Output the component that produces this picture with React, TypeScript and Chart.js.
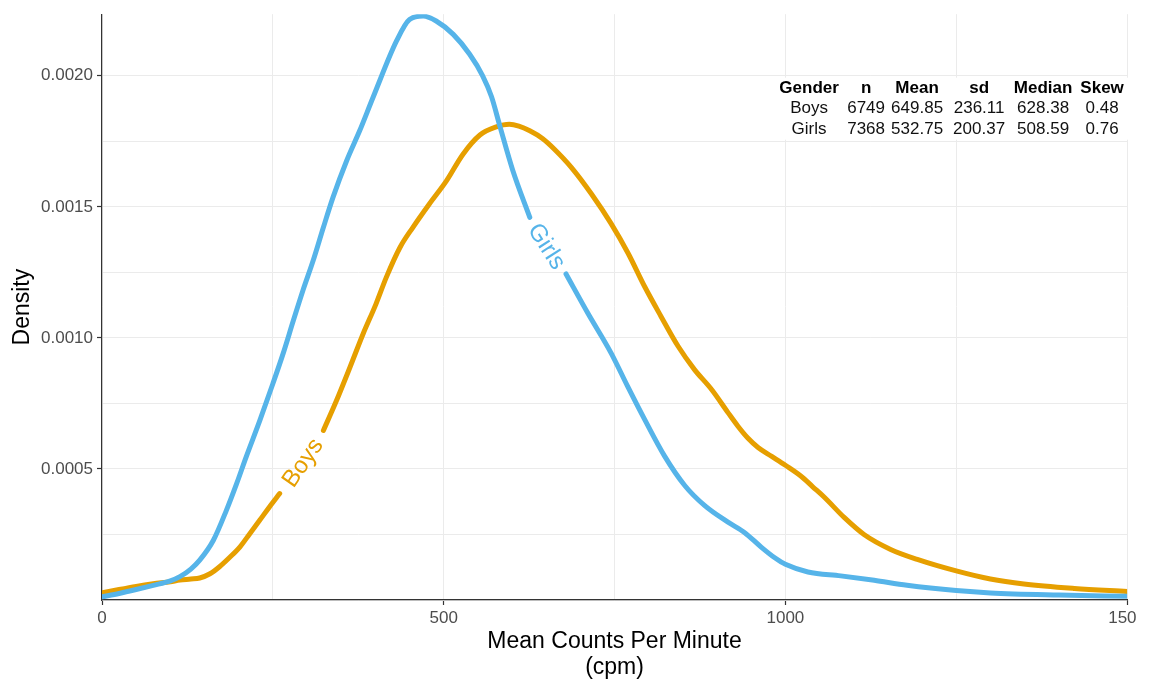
import React, { useEffect, useRef } from 'react';
import { Chart, registerables } from 'chart.js';

Chart.register(...registerables);

// ---- Data ----
const girlsX = [0, 25, 50, 75, 100, 114, 130, 143, 163, 182, 197, 211, 231, 250, 265, 280, 294, 309, 324, 338, 358, 377, 397, 431, 450, 470, 489, 514, 538, 557, 570, 582, 601, 626, 652, 679, 711, 745, 769, 794, 823, 853, 882, 916, 940, 965, 985, 1000, 1033, 1081, 1130, 1178, 1250, 1300, 1400, 1500];
const girlsDensity = [0.000012, 0.000025, 0.00004, 0.000056, 0.000073, 0.000089, 0.000118, 0.000152, 0.000228, 0.000342, 0.000444, 0.000546, 0.000685, 0.000825, 0.00094, 0.001066, 0.001181, 0.001295, 0.001422, 0.001536, 0.001676, 0.00179, 0.00192, 0.002133, 0.002215, 0.002228, 0.002209, 0.002158, 0.002082, 0.002, 0.00192, 0.00181, 0.00164, 0.00146, null, 0.001244, 0.001094, 0.000942, 0.000816, 0.000689, 0.00055, 0.000436, 0.00036, 0.000297, 0.000258, 0.000201, 0.00016, 0.000136, 0.000107, 0.000092, 0.000075, 0.000056, 0.000036, 0.000027, 0.000019, 0.000014];

const boysX = [0, 25, 50, 75, 100, 114, 130, 143, 158, 172, 187, 202, 216, 231, 245, 260, 292, 324, 343, 363, 382, 401, 416, 436, 455, 479, 504, 528, 553, 577, 596, 610, 626, 645, 662, 687, 716, 745, 770, 794, 818, 843, 867, 892, 916, 930, 945, 960, 980, 1000, 1023, 1040, 1057, 1086, 1115, 1154, 1193, 1250, 1300, 1349, 1423, 1500];
const boysDensity = [0.000027, 0.00004, 0.000052, 0.000062, 0.00007, 0.000076, 0.00008, 0.000084, 0.0001, 0.000127, 0.000163, 0.000203, 0.000252, 0.000305, 0.000355, 0.000406, null, 0.000647, 0.00076, 0.000889, 0.001015, 0.00113, 0.001231, 0.001345, 0.001422, 0.001511, 0.001599, 0.0017, 0.001774, 0.001805, 0.001815, 0.001808, 0.00179, 0.00176, 0.00172, 0.00165, 0.00155, 0.001436, 0.001322, 0.001196, 0.001082, 0.000968, 0.000879, 0.000803, 0.000715, 0.000665, 0.000618, 0.000582, 0.000548, 0.000514, 0.000472, 0.000432, 0.000392, 0.000315, 0.00025, 0.000193, 0.000155, 0.000111, 0.00008, 0.000061, 0.000044, 0.000032];

const seriesNames = ['Girls', 'Boys'];
const seriesColors = ['#56B4E9', '#E69F00'];

const xLabelledTicks = [0, 500, 1000, 1500];
const yLabelledTicks = [0.0005, 0.001, 0.0015, 0.002];

const tableHeader = ['Gender', 'n', 'Mean', 'sd', 'Median', 'Skew'];
const tableRows = [
  ['Boys', '6749', '649.85', '236.11', '628.38', '0.48'],
  ['Girls', '7368', '532.75', '200.37', '508.59', '0.76'],
];

const FONT = '"Liberation Sans", Arial, Helvetica, sans-serif';

const isLabelledY = (v: number) => yLabelledTicks.some((t) => Math.abs(t - v) < 1e-9);
const isLabelledX = (v: number) => xLabelledTicks.includes(Math.round(v));

const annotatePlugin = {
  id: 'annotate',
  afterDatasetsDraw(chart: any) {
    const { ctx, chartArea, scales } = chart;
    const xs = scales.x;
    const ys = scales.y;
    // on-curve labels placed in the gaps of each line
    chart.data.datasets.forEach((ds: any) => {
      const pts = ds.data;
      const gi = pts.findIndex((p: any) => p.y === null);
      if (gi < 1 || gi >= pts.length - 1) return;
      const a = pts[gi - 1];
      const b = pts[gi + 1];
      const x1 = xs.getPixelForValue(a.x);
      const y1 = ys.getPixelForValue(a.y);
      const x2 = xs.getPixelForValue(b.x);
      const y2 = ys.getPixelForValue(b.y);
      const ang = Math.atan2(y2 - y1, x2 - x1);
      ctx.save();
      ctx.translate((x1 + x2) / 2, (y1 + y2) / 2);
      ctx.rotate(ang);
      ctx.font = `24px ${FONT}`;
      ctx.fillStyle = ds.borderColor;
      ctx.textAlign = 'center';
      ctx.textBaseline = 'middle';
      ctx.fillText(ds.label, 0, 2);
      ctx.restore();
    });

    // summary table
    const right = chartArea.right;
    const top = chartArea.top;
    const colCenters = [-318, -261, -210, -148, -84, -25];
    const rowYs = [74, 94.5, 115];
    ctx.save();
    ctx.fillStyle = '#ffffff';
    ctx.fillRect(right - 360, top + 63.5, 372, 62);
    ctx.fillStyle = '#000000';
    ctx.textAlign = 'center';
    ctx.textBaseline = 'middle';
    ctx.font = `bold 17px ${FONT}`;
    tableHeader.forEach((h, i) => ctx.fillText(h, right + colCenters[i], top + rowYs[0]));
    ctx.font = `17px ${FONT}`;
    ctx.fillStyle = '#111111';
    tableRows.forEach((row, r) => {
      row.forEach((c, i) => ctx.fillText(c, right + colCenters[i], top + rowYs[r + 1]));
    });
    ctx.restore();
  },
};

export default function App() {
  const ref = useRef<HTMLCanvasElement>(null);

  useEffect(() => {
    if (!ref.current) return;
    const mk = (xsArr: number[], ysArr: (number | null)[]) => xsArr.map((x, i) => ({ x, y: ysArr[i] }));
    const gridColor = '#ebebeb';
    const tickColor = (ctx: any) => {
      const v = ctx.tick ? ctx.tick.value : NaN;
      if (ctx.scale.axis === 'x') return isLabelledX(v) ? '#333333' : 'rgba(0,0,0,0)';
      return isLabelledY(v) ? '#333333' : 'rgba(0,0,0,0)';
    };
    const lineStyle = {
      borderWidth: 5,
      pointRadius: 0,
      cubicInterpolationMode: 'monotone',
      spanGaps: false,
      borderCapStyle: 'round',
      borderJoinStyle: 'round',
    };
    const chart = new Chart(ref.current, {
      type: 'line',
      data: {
        datasets: [
          {
            label: seriesNames[0],
            data: mk(girlsX, girlsDensity),
            borderColor: seriesColors[0],
            backgroundColor: seriesColors[0],
            ...lineStyle,
          },
          {
            label: seriesNames[1],
            data: mk(boysX, boysDensity),
            borderColor: seriesColors[1],
            backgroundColor: seriesColors[1],
            ...lineStyle,
          },
        ],
      },
      options: {
        animation: false,
        responsive: false,
        events: [],
        layout: { padding: { top: 13, right: 21, bottom: 0, left: 0 } },
        plugins: {
          legend: { display: false },
          tooltip: { enabled: false },
        },
        scales: {
          x: {
            type: 'linear',
            position: 'bottom',
            min: 0,
            max: 1500,
            afterFit: (s: any) => { s.height = 82; },
            ticks: {
              stepSize: 250,
              autoSkip: false,
              maxRotation: 0,
              padding: 3,
              color: '#4d4d4d',
              font: { family: FONT, size: 17 },
              callback: (v: any) => (isLabelledX(Number(v)) ? String(v) : ''),
            },
            grid: { color: gridColor, lineWidth: 1, tickLength: 5, tickColor, tickWidth: 1.2 },
            border: { color: '#333333', width: 1.2 },
            title: {
              display: true,
              text: ['Mean Counts Per Minute', '(cpm)'],
              color: '#000000',
              font: { family: FONT, size: 23, lineHeight: 1.1 },
              padding: { top: 4, bottom: 2 },
            },
          },
          y: {
            type: 'linear',
            position: 'left',
            min: 0,
            max: 0.002235,
            afterFit: (s: any) => { s.width = 102; },
            ticks: {
              stepSize: 0.00025,
              includeBounds: false,
              autoSkip: false,
              padding: 4,
              color: '#4d4d4d',
              font: { family: FONT, size: 17 },
              callback: (v: any) => (isLabelledY(Number(v)) ? Number(v).toFixed(4) : ''),
            },
            grid: { color: gridColor, lineWidth: 1, tickLength: 5, tickColor, tickWidth: 1.2 },
            border: { color: '#333333', width: 1.2 },
            title: {
              display: true,
              text: 'Density',
              color: '#000000',
              font: { family: FONT, size: 23, lineHeight: 1.1 },
              padding: { top: 10, bottom: 0 },
            },
          },
        },
      },
      plugins: [annotatePlugin],
    } as any);
    return () => chart.destroy();
  }, []);

  return (
    <div
      style={{
        position: 'absolute',
        left: 0,
        top: 0,
        width: 1137,
        height: 682,
        overflow: 'hidden',
        background: '#ffffff',
      }}
    >
      <canvas ref={ref} width={1149} height={682} style={{ display: 'block', width: 1149, height: 682 }} />
    </div>
  );
}
